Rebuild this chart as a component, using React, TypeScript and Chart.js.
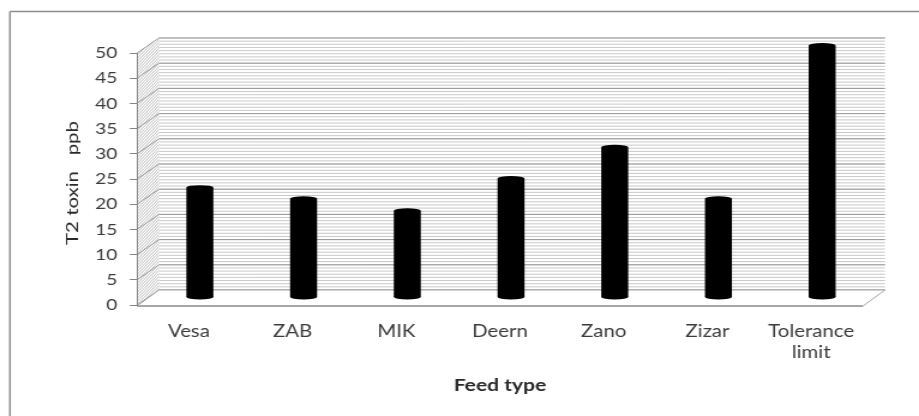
import { useEffect, useRef } from 'react';
import { Chart, registerables } from 'chart.js';

Chart.register(...registerables);

// ---- data ----
const categories: (string | string[])[] = ['Vesa', 'ZAB', 'MIK', 'Deern', 'Zano', 'Zizar', ['Tolerance', 'limit']];
const toxinPpb = [21.8, 19.6, 17.2, 23.6, 29.8, 19.6, 50];
const yMin = 0;
const yMax = 50;
const yStep = 5;
const yAxisTitle = 'T2 toxin   ppb';
const xAxisTitle = 'Feed type';

// ---- layout ----
// The canvas is drawn narrower and widened by CSS, giving the wide lettering
// of the original worksheet chart.
const OUT_W = 919;
const OUT_H = 416;
const CANVAS_W = 766;
const SX = OUT_W / CANVAS_W;
const PLOT_LEFT = 137 / SX;
const PLOT_RIGHT = 863 / SX;
const PLOT_TOP = 53;
const PLOT_BOTTOM = 305;
const DEPTH_X = 22 / SX; // 3-D depth offset of the back wall
const DEPTH_Y = -15;
const Y_TITLE_X = 72 / SX;
const Y_TITLE_STRETCH = 1.2;

const FONT = 'Lato, "Open Sans", sans-serif';
const TICK_COLOR = '#3c3c3c';
const TITLE_COLOR = '#2a2a2a';
const AXIS_COLOR = '#868686';

function line(ctx: CanvasRenderingContext2D, x1: number, y1: number, x2: number, y2: number) {
  ctx.beginPath();
  ctx.moveTo(x1, y1);
  ctx.lineTo(x2, y2);
  ctx.stroke();
}

// Walls, floor and outer frame of the 3-D plot box.
const frame3d = {
  id: 'frame3d',
  beforeDraw(chart: any) {
    const { ctx, chartArea: a, scales } = chart;
    const y = scales.y;
    const L = a.left, R = a.right, T = a.top, B = a.bottom;
    const bl = L + DEPTH_X, br = R + DEPTH_X, bt = T + DEPTH_Y, bb = B + DEPTH_Y;
    ctx.save();
    ctx.fillStyle = '#ffffff';
    ctx.fillRect(0, 0, chart.width, chart.height);

    // chart frame
    ctx.strokeStyle = '#8c8c8c';
    ctx.lineWidth = 1.5;
    line(ctx, 8.3, 11.5, chart.width + 2, 11.5);
    line(ctx, 8.3, 11.5, 8.3, chart.height + 2);

    // back wall: narrow horizontal pattern
    const majorGap = y.getPixelForValue(0) - y.getPixelForValue(yStep);
    const stripe = majorGap / 8;
    ctx.lineWidth = 1;
    ctx.strokeStyle = '#c9c9c9';
    for (let yy = bb; yy >= bt - 0.5; yy -= stripe) {
      line(ctx, bl, yy, br, yy);
    }

    // side wall: diagonal pattern
    ctx.save();
    ctx.beginPath();
    ctx.moveTo(L, T);
    ctx.lineTo(bl, bt);
    ctx.lineTo(bl, bb);
    ctx.lineTo(L, B);
    ctx.closePath();
    ctx.clip();
    ctx.strokeStyle = '#c2c2c2';
    for (let yy = T - 40; yy <= B + 40; yy += 3) {
      line(ctx, L - 2, yy + 6, bl + 2, yy + DEPTH_Y - 6);
    }
    ctx.restore();

    // major gridlines on side and back walls
    ctx.strokeStyle = '#999999';
    ctx.lineWidth = 1;
    for (const t of y.ticks) {
      const py = y.getPixelForValue(t.value);
      line(ctx, L, py, bl, py + DEPTH_Y);
      line(ctx, bl, py + DEPTH_Y, br, py + DEPTH_Y);
    }

    // floor
    ctx.fillStyle = '#ffffff';
    ctx.beginPath();
    ctx.moveTo(L, B + 1);
    ctx.lineTo(R, B + 1);
    ctx.lineTo(br, bb);
    ctx.lineTo(bl, bb);
    ctx.closePath();
    ctx.fill();
    ctx.strokeStyle = '#a6a6a6';
    ctx.lineWidth = 1;
    line(ctx, bl, bb, br, bb);
    line(ctx, L, B + 1, bl, bb);
    line(ctx, R, B + 1, br, bb);
    ctx.lineWidth = 2;
    line(ctx, L, B + 1, R, B + 1);
    ctx.restore();
  },
};

// Black cylinders placed half-way into the depth of the plot box.
const cylinders = {
  id: 'cylinders',
  afterDatasetsDraw(chart: any) {
    const { ctx } = chart;
    const meta = chart.getDatasetMeta(0);
    ctx.save();
    ctx.fillStyle = '#000000';
    for (const el of meta.data) {
      const { x, y, base, width } = el.getProps(['x', 'y', 'base', 'width'], true);
      const cx = x + DEPTH_X / 2;
      const top = y + DEPTH_Y / 2;
      const bot = base + DEPTH_Y / 2;
      const rx = width / 2;
      const ry = 2.5;
      ctx.fillRect(cx - rx, top, width, bot - top);
      ctx.beginPath();
      ctx.ellipse(cx, top, rx, ry, 0, 0, Math.PI * 2);
      ctx.fill();
      ctx.beginPath();
      ctx.ellipse(cx, bot, rx, ry, 0, 0, Math.PI * 2);
      ctx.fill();
    }
    ctx.restore();
  },
};

// Vertical axis title, widened along its baseline like the tick lettering.
const yTitle = {
  id: 'yTitle',
  afterDraw(chart: any) {
    const { ctx, chartArea: a } = chart;
    ctx.save();
    ctx.translate(Y_TITLE_X, (a.top + a.bottom) / 2 + 4);
    ctx.rotate(-Math.PI / 2);
    ctx.scale(Y_TITLE_STRETCH, 1 / SX);
    ctx.font = `17px ${FONT}`;
    ctx.fillStyle = TITLE_COLOR;
    ctx.textAlign = 'center';
    ctx.textBaseline = 'middle';
    ctx.fillText(yAxisTitle, 0, 0);
    ctx.restore();
  },
};

export default function App() {
  const canvasRef = useRef<HTMLCanvasElement | null>(null);

  useEffect(() => {
    const canvas = canvasRef.current;
    if (!canvas) return;
    const chart = new Chart(canvas, {
      type: 'bar',
      data: {
        labels: categories,
        datasets: [
          {
            data: toxinPpb,
            backgroundColor: 'rgba(0,0,0,0)',
            borderWidth: 0,
            categoryPercentage: 1,
            barPercentage: 0.26,
          },
        ],
      },
      options: {
        responsive: false,
        animation: false,
        devicePixelRatio: 1,
        layout: {
          padding: { left: 0, top: PLOT_TOP, right: CANVAS_W - PLOT_RIGHT, bottom: 0 },
        },
        plugins: {
          legend: { display: false },
          tooltip: { enabled: false },
        },
        scales: {
          x: {
            grid: { display: false, drawTicks: false },
            border: { display: false },
            ticks: {
              autoSkip: false,
              maxRotation: 0,
              padding: 15.4,
              color: TICK_COLOR,
              font: { family: FONT, size: 17, lineHeight: 1.25 },
            },
            title: {
              display: true,
              text: xAxisTitle,
              color: TITLE_COLOR,
              font: { family: FONT, size: 17.5, weight: 'bold' },
              padding: { top: 0, bottom: 20.5 },
            },
            afterFit(scale: any) {
              scale.height = OUT_H - PLOT_BOTTOM;
            },
          },
          y: {
            min: yMin,
            max: yMax,
            ticks: {
              stepSize: yStep,
              padding: 10.5,
              color: TICK_COLOR,
              font: { family: FONT, size: 16 },
            },
            grid: { drawOnChartArea: false, color: AXIS_COLOR, tickLength: 6 },
            border: { display: true, color: AXIS_COLOR, width: 1 },
            title: { display: false },
            afterFit(scale: any) {
              scale.width = PLOT_LEFT;
            },
          },
        },
      },
      plugins: [frame3d, cylinders, yTitle],
    } as any);
    return () => chart.destroy();
  }, []);

  return (
    <div style={{ position: 'absolute', left: 0, top: 0, width: OUT_W, height: OUT_H, overflow: 'hidden' }}>
      <canvas
        ref={canvasRef}
        width={CANVAS_W}
        height={OUT_H}
        style={{ width: `${OUT_W}px`, height: `${OUT_H}px`, display: 'block' }}
      />
    </div>
  );
}
